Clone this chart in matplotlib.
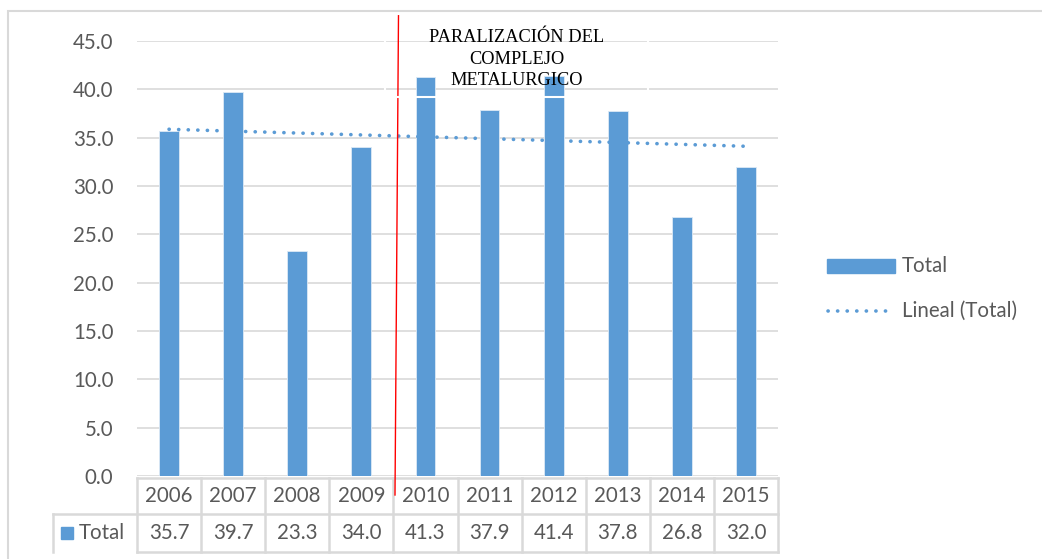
import numpy as np
import matplotlib.pyplot as plt
from matplotlib.patches import Rectangle
from matplotlib.lines import Line2D

years = ['2006', '2007', '2008', '2009', '2010', '2011', '2012', '2013', '2014', '2015']
total = [35.7, 39.7, 23.3, 34.0, 41.3, 37.9, 41.4, 37.8, 26.8, 32.0]
yticks = [0, 5, 10, 15, 20, 25, 30, 35, 40, 45]

BLUE = '#5B9BD5'
GRID = '#D9D9D9'
TXT = '#595959'
FS = 14.8
plt.rcParams['font.family'] = ['Lato', 'DejaVu Sans']

W, H = 1042, 559
fig = plt.figure(figsize=(W / 100, H / 100), dpi=100)

def fx(px):
    return px / W

def fy(py):
    return 1 - py / H

# chart frame
fig.patches.append(Rectangle((fx(8), fy(600)), fx(1100) - fx(8), fy(11) - fy(600),
                             transform=fig.transFigure, fill=False,
                             edgecolor=GRID, lw=1.5))

ax_l, ax_r, ax_t, ax_b = 137, 778, 41, 476
ax = fig.add_axes([fx(ax_l), fy(ax_b), fx(ax_r) - fx(ax_l), fy(ax_t) - fy(ax_b)])

x = np.arange(len(years))
ax.bar(x, total, width=0.31, color=BLUE, edgecolor='#DCE9F5', lw=0.6, zorder=2)

# linear trend line (Excel "Lineal")
dots = (0, (0.05, 2.6))
coef = np.polyfit(x, total, 1)
ax.plot(x, np.polyval(coef, x), color=BLUE, lw=2.6,
        linestyle=dots, dash_capstyle='round', zorder=3)

ax.set_xlim(-0.5, len(years) - 0.5)
ax.set_ylim(0, 45)
ax.set_yticks(yticks)
ax.set_yticklabels([f'{v:.1f}' for v in yticks], color=TXT, fontsize=FS)
ax.tick_params(axis='y', length=0, pad=17)
ax.set_xticks([])
ax.yaxis.grid(True, color=GRID, lw=1.2, zorder=0)
for s in ax.spines.values():
    s.set_visible(False)
ax.set_axisbelow(True)

# data table below the axis
h = ax_b - ax_t
def ay(py):
    return (ax_b - py) / h

r0, r1, r2 = ay(478), ay(514), ay(552)
tr = ax.get_xaxis_transform()
lkw = dict(color=GRID, lw=1.8, clip_on=False, transform=tr)
ax.plot([-0.5, len(years) - 0.5], [r0, r0], **lkw)
ax.plot([-0.5, len(years) - 0.5], [r2, r2], **lkw)
for i in range(len(years) + 1):
    ax.plot([i - 0.5, i - 0.5], [r0, r2], **lkw)

# header cell for series name
hl = (53 - ax_l) / (ax_r - ax_l) * len(years) - 0.5
ax.plot([hl, len(years) - 0.5], [r1, r1], **lkw)
ax.plot([hl, hl], [r1, r2], **lkw)
for i, (yr, v) in enumerate(zip(years, total)):
    ax.text(i, (r0 + r1) / 2, yr, ha='center', va='center', color=TXT,
            fontsize=FS, transform=tr, clip_on=False)
    ax.text(i, (r1 + r2) / 2, f'{v:.1f}', ha='center', va='center', color=TXT,
            fontsize=FS, transform=tr, clip_on=False)

fig.patches.append(Rectangle((fx(61), fy(539)), fx(12), fy(527) - fy(539),
                             transform=fig.transFigure, color=BLUE))
fig.text(fx(79), fy(533), 'Total', ha='left', va='center', color=TXT, fontsize=FS)

# legend
fig.patches.append(Rectangle((fx(827), fy(273)), fx(895) - fx(827), fy(259) - fy(273),
                             transform=fig.transFigure, color=BLUE))
fig.text(fx(902), fy(266), 'Total', ha='left', va='center', color=TXT, fontsize=FS)
fig.lines.append(Line2D([fx(828), fx(890)], [fy(311), fy(311)], transform=fig.transFigure,
                        color=BLUE, lw=2.6, linestyle=dots, dash_capstyle='round'))
fig.text(fx(902), fy(311), 'Lineal (Total)', ha='left', va='center', color=TXT, fontsize=FS)

# annotation: vertical red marker + text box (white outline)
fig.lines.append(Line2D([fx(398.5), fx(395)], [fy(15), fy(495)], transform=fig.transFigure,
                        color='red', lw=1, zorder=5))
fig.patches.append(Rectangle((fx(385), fy(97)), fx(648) - fx(385), fy(14) - fy(97),
                             transform=fig.transFigure, fill=False,
                             edgecolor='white', lw=1.5, zorder=6))
fig.text(fx(517), fy(59), 'PARALIZACIÓN DEL\nCOMPLEJO\nMETALURGICO', ha='center',
         va='center', fontsize=13.2, family='Liberation Serif', color='black',
         linespacing=1.38, zorder=7)

fig.savefig('out.png', dpi=100)
